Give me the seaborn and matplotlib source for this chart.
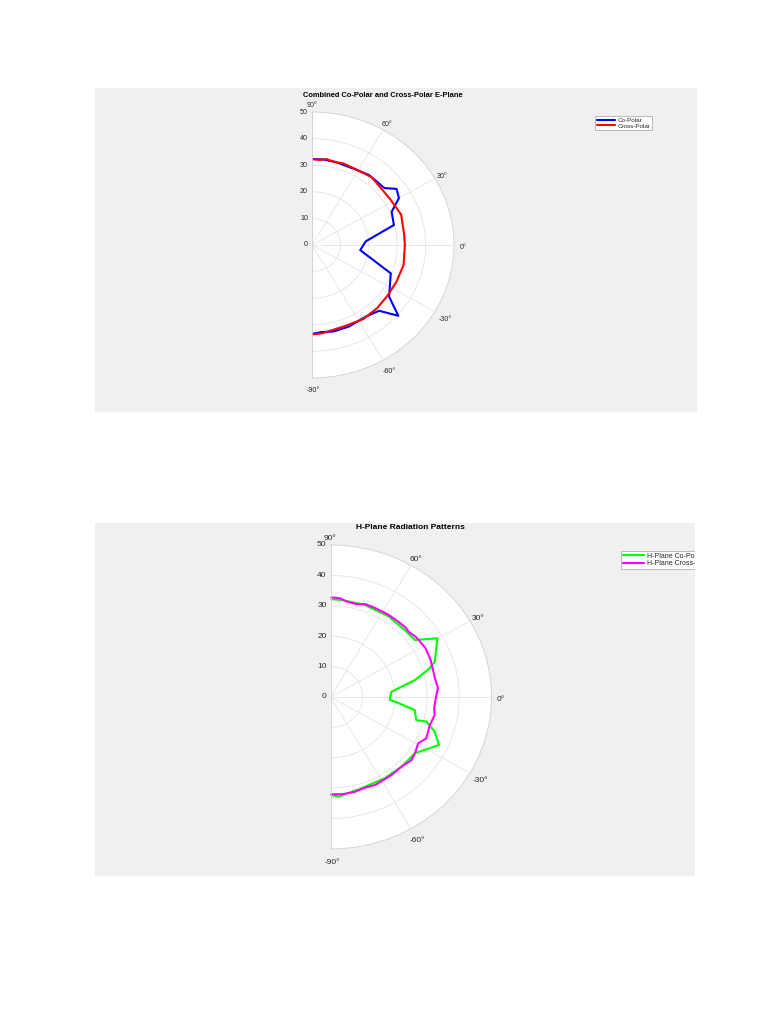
import numpy as np
import matplotlib
matplotlib.use("Agg")
import matplotlib.pyplot as plt
import seaborn as sns

sns.set_theme(style="white")
plt.rcParams['font.family'] = ['Liberation Sans', 'DejaVu Sans']

# ---- E-plane pattern (angles in degrees, magnitude in dB) ----
e_co_theta = [90, 84, 75, 61, 52.6, 40, 35.3, 29.9, 24, 14.6, 4.2, -6.5, -21,
              -35.6, -41.2, -46.3, -55, -67, -77, -84, -90]
e_co_r = [32.3, 32.4, 32.3, 32.3, 33.1, 33.3, 36.5, 35.3, 30.7, 29.8, 19.0, 17.1,
          29.7, 33.4, 40.4, 34.2, 32.9, 33.3, 33.4, 32.9, 33.4]

e_x_theta = [90, 85, 81, 75.5, 70, 61, 50.5, 39, 31.5, 20, 7, 0, -13, -25, -36,
             -46, -57, -70, -84, -90]
e_x_r = [32.3, 32.1, 32.7, 32.2, 32.6, 32.4, 33.0, 32.3, 32.5, 33.4, 32.7, 32.7,
         33.1, 32.8, 32.7, 33.0, 33.2, 32.6, 33.4, 33.6]

# ---- H-plane pattern ----
h_co_theta = [90, 83.5, 70.5, 56, 43.6, 35.6, 30.2, 19.7, 17, 12, 5.2, -3, -4.4,
              -9.3, -15.9, -15.2, -19.4, -25.1, -35.2, -46, -57.9, -72, -85.5, -90]
h_co_r = [32.2, 32.1, 32.1, 32.1, 31.9, 32.2, 38.4, 34.4, 32.2, 26.8, 19.0, 18.4,
          20.1, 26.5, 27.7, 30.9, 34.3, 37.2, 32.1, 31.8, 31.6, 31.5, 32.9, 32.2]

h_x_theta = [90, 84.6, 81.6, 75.8, 70.4, 64.4, 56.2, 50.5, 44.5, 41.5, 36.9, 34.4,
             28.5, 21.4, 12.6, 10.8, 5, 1.2, -3.7, -6.6, -10.4, -16.6, -24.6, -29.2,
             -35.2, -39.6, -46, -53.6, -64.3, -70, -76.3, -83.6, -90]
h_x_r = [32.8, 32.6, 31.9, 31.6, 32.4, 32.4, 32.5, 32.5, 32.7, 32.4, 33.0, 33.2,
         33.6, 33.4, 33.0, 33.0, 33.5, 32.9, 32.5, 32.4, 32.9, 32.2, 32.7, 31.2,
         32.1, 32.6, 31.8, 31.9, 32.1, 31.7, 32.1, 32.2, 32.0]

theta_ticks = [-90, -60, -30, 0, 30, 60, 90]
theta_labels = ['-90°', '-60°', '-30°', '0°', '30°', '60°', '90°']
r_ticks = [0, 10, 20, 30, 40, 50]

e_title = 'Combined Co-Polar and Cross-Polar E-Plane'
h_title = 'H-Plane Radiation Patterns'
e_labels = ['Co-Polar', 'Cross-Polar']
h_labels = ['H-Plane Co-Polar', 'H-Plane Cross-Polar']

W, H = 768, 1024
fig = plt.figure(figsize=(W / 100, H / 100), dpi=100)
fig.patch.set_facecolor('white')
TXT = '#262626'


def frac(x0, y0, x1, y1):
    """Pixel box (top-left origin) to figure fraction rect."""
    return [x0 / W, 1 - y1 / H, (x1 - x0) / W, (y1 - y0) / H]


def panel(box):
    bg = fig.add_axes(frac(*box))
    bg.set_facecolor('#f0f0f0')
    bg.set_xticks([])
    bg.set_yticks([])
    for s in bg.spines.values():
        s.set_visible(False)
    return bg


def polar(cx, cy, rx, ry, fs, tpad):
    # the half-disk is centred inside a square wedge box, so the disk
    # occupies the middle half of the box horizontally
    ax = fig.add_axes(frac(cx - rx / 2, cy - ry, cx + 1.5 * rx, cy + ry),
                      projection='polar')
    ax.set_thetamin(-90)
    ax.set_thetamax(90)
    ax.set_rlim(0, r_ticks[-1])
    ax.set_aspect('auto')
    ax.set_facecolor('white')
    ax.set_thetagrids(theta_ticks, [''] * len(theta_ticks))
    ax.set_rticks(r_ticks[1:-1])
    ax.set_yticklabels([])
    ax.grid(True, color='#e4e4e4', lw=0.6)
    ax.tick_params(length=0)
    for s in ax.spines.values():
        s.set_color('#d0d0d0')
        s.set_linewidth(0.6)
    # radial labels along the 90 degree edge
    for rv in r_ticks:
        ax.annotate(str(rv), xy=(np.pi / 2, rv), xytext=(-2.8, 0),
                    textcoords='offset points', ha='right', va='center',
                    fontsize=fs, color=TXT, annotation_clip=False)
    # angle labels just outside the rim (slightly lowered)
    for t, lab in zip(theta_ticks, theta_labels):
        a = np.deg2rad(t)
        extra = 1.0 if t < 0 else 0.0
        ax.annotate(lab, xy=(a, r_ticks[-1]),
                    xytext=((tpad + extra) * np.cos(a) + extra,
                            (tpad + extra) * np.sin(a) - 1.8),
                    textcoords='offset points', ha='center', va='center',
                    fontsize=fs, color=TXT, annotation_clip=False)
    return ax


def draw(ax, th, r, color):
    sns.lineplot(x=np.deg2rad(th), y=r, ax=ax, color=color, lw=1.5,
                 sort=False, estimator=None, legend=False)


# ---- top figure: E-plane ----
bg1 = panel((95, 88, 697, 412))
ax1 = polar(312, 245, 142, 133, 5.1, 6.3)
draw(ax1, e_co_theta, e_co_r, '#0000ff')
draw(ax1, e_x_theta, e_x_r, '#ff0000')
ax1.set_xlabel('')
ax1.set_ylabel('')
fig.text(383 / W, 1 - 95.5 / H, e_title, ha='center', va='center',
         fontsize=5.4, weight='bold', color='black')
leg1 = bg1.legend(ax1.get_lines()[-2:], e_labels, loc='upper left',
                  bbox_to_anchor=(595 / W, 1 - 116 / H),
                  bbox_transform=fig.transFigure, borderaxespad=0,
                  fontsize=4.5, handlelength=3.0, handletextpad=0.3,
                  labelspacing=0.05, borderpad=0.25, frameon=True,
                  fancybox=False, framealpha=1, edgecolor='#a0a0a0')
leg1.get_frame().set_linewidth(0.5)

# ---- bottom figure: H-plane ----
bg2 = panel((95, 523, 695, 876))
ax2 = polar(330.5, 697, 161, 152, 6.0, 6.8)
draw(ax2, h_co_theta, h_co_r, '#00ff00')
draw(ax2, h_x_theta, h_x_r, '#ff00ff')
ax2.set_xlabel('')
ax2.set_ylabel('')
fig.text(410.5 / W, 1 - 527.5 / H, h_title, ha='center', va='center',
         fontsize=6.0, weight='bold', color='black')
leg2 = bg2.legend(ax2.get_lines()[-2:], h_labels, loc='upper left',
                  bbox_to_anchor=(621 / W, 1 - 551 / H),
                  bbox_transform=fig.transFigure, borderaxespad=0,
                  fontsize=5.0, handlelength=3.1, handletextpad=0.35,
                  labelspacing=0.05, borderpad=0.25, frameon=True,
                  fancybox=False, framealpha=1, edgecolor='#a0a0a0')
leg2.get_frame().set_linewidth(0.5)
# legend runs past the panel edge: clip it to the panel
for a in leg2.findobj():
    a.set_clip_box(bg2.bbox)
    a.set_clip_on(True)

fig.savefig('out.png', dpi=100, facecolor='white')
